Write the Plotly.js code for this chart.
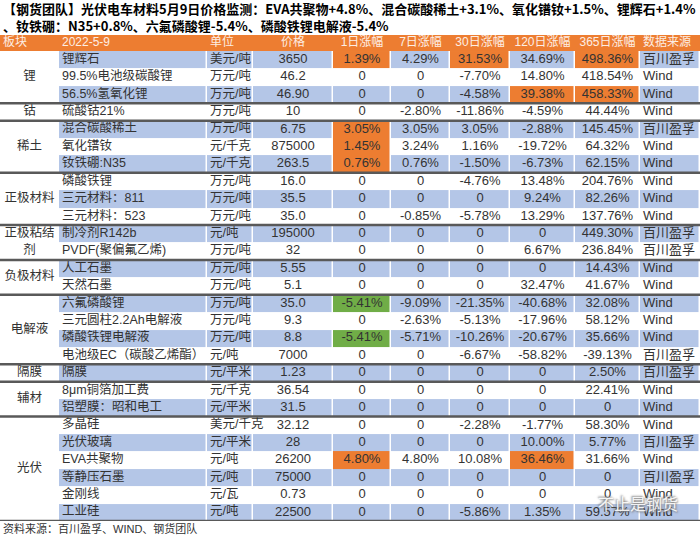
<!DOCTYPE html>
<html>
<head>
<meta charset="utf-8">
<script src="https://cdn.plot.ly/plotly-3.0.1.min.js"></script>
<style>
  body { margin: 0; padding: 0; background: #fff; }
  #plot { width: 700px; height: 536px; }
</style>
</head>
<body>
<div id="plot"></div>
<script>
// table contents
var headers = ["板块", "2022-5-9", "单位", "价格", "1日涨幅", "7日涨幅", "30日涨幅", "120日涨幅", "365日涨幅", "数据来源"];

var names = ["锂辉石", "99.5%电池级碳酸锂", "56.5%氢氧化锂", "硫酸钴21%", "混合碳酸稀土", "氧化镨钕",
  "钕铁硼:N35", "磷酸铁锂", "三元材料：811", "三元材料：523", "制冷剂R142b", "PVDF(聚偏氟乙烯)",
  "人工石墨", "天然石墨", "六氟磷酸锂", "三元圆柱2.2Ah电解液", "磷酸铁锂电解液", "电池级EC（碳酸乙烯酯）",
  "隔膜", "8μm铜箔加工费", "铝塑膜：昭和电工", "多晶硅", "光伏玻璃", "EVA共聚物", "等静压石墨", "金刚线", "工业硅"];

var units = ["美元/吨", "万元/吨", "万元/吨", "万元/吨", "万元/吨", "元/千克", "元/千克", "万元/吨", "万元/吨",
  "万元/吨", "元/吨", "万元/吨", "万元/吨", "万元/吨", "万元/吨", "万元/吨", "万元/吨", "元/吨", "元/平米",
  "元/千克", "元/平米", "美元/千克", "元/平米", "元/吨", "元/吨", "元/瓦", "元/吨"];

var prices = ["3650", "46.2", "46.90", "10", "6.75", "875000", "263.5", "16.0", "35.5", "35.0", "195000", "32",
  "5.55", "5.1", "35.0", "9.3", "8.8", "7000", "1.23", "36.54", "31.5", "32.12", "28", "26200", "75000", "0.73", "22500"];

var chg1 = [1.39, 0, 0, 0, 3.05, 1.45, 0.76, 0, 0, 0, 0, 0, 0, 0, -5.41, 0, -5.41, 0, 0, 0, 0, 0, 0, 4.80, 0, 0, 0];
var chg7 = [4.29, 0, 0, -2.80, 3.05, 3.24, 0.76, 0, 0, -0.85, 0, 0, 0, 0, -9.09, -2.63, -5.71, 0, 0, 0, 0, 0, 0, 4.80, 0, 0, 0];
var chg30 = [31.53, -7.70, -4.58, -11.86, 3.05, 1.16, -1.50, -4.76, 0, -5.78, 0, 0, 0, 0, -21.35, -5.13, -10.26,
  -6.67, 0, 0, 0, -2.28, 0, 10.08, 0, 0, -5.86];
var chg120 = [34.69, 14.80, 39.38, -4.59, -2.88, -19.72, -6.73, 13.48, 9.24, 13.29, 0, 6.67, 0, 32.47, -40.68,
  -17.96, -20.67, -58.82, 0, 0, 0, -1.77, 10.00, 36.46, 0, 0, 1.35];
var chg365 = [498.36, 418.54, 458.33, 44.44, 145.45, 64.32, 62.15, 204.76, 82.26, 137.76, 449.30, 236.84, 14.43,
  41.67, 32.08, 58.12, 35.66, -39.13, 2.50, 22.41, 0, 58.30, 5.77, 31.66, 0, 0, 59.57];

var sources = ["百川盈孚", "Wind", "Wind", "Wind", "百川盈孚", "Wind", "Wind", "Wind", "Wind", "Wind", "百川盈孚",
  "百川盈孚", "Wind", "Wind", "Wind", "Wind", "Wind", "百川盈孚", "百川盈孚", "Wind", "Wind", "Wind", "百川盈孚",
  "Wind", "百川盈孚", "Wind", "Wind"];

var groupLabels = ["锂", "钴", "稀土", "正极材料", "正极粘结<br>剂", "负极材料", "电解液", "隔膜", "辅材", "光伏"];
var groupSizes = [3, 1, 3, 3, 2, 2, 4, 1, 2, 6];

// highlighted cells: [row, change column (0 = 1日 ... 4 = 365日)]
var hotCells = [[0, 0], [0, 2], [0, 4], [2, 3], [2, 4], [4, 0], [5, 0], [6, 0], [23, 0], [23, 3]];
var coldCells = [[14, 0], [16, 0]];

// layout helpers
var colEdges = [0, 59, 207, 253, 333, 391, 450, 510, 575, 640, 700];
var nRows = names.length;
var headTop = -0.92;
var BLUE = "#b4c6e7", ORANGE = "#ed7d31", GREEN = "#70ad47";
var TXT = "#333333";
var FONT = "Liberation Sans, Noto Sans CJK SC, sans-serif";

function pct(v) {
  return v === 0 ? "0" : v.toFixed(2) + "%";
}

// body colour codes: 0 white, 1 blue, 2 orange, 3 green
var z = [];
for (var r = 0; r < nRows; r++) {
  var row = [];
  for (var c = 0; c < colEdges.length - 1; c++) {
    row.push(c === 0 ? 0 : (r % 2 === 0 ? 1 : 0));
  }
  z.push(row);
}
hotCells.forEach(function(h) { z[h[0]][h[1] + 4] = 2; });
coldCells.forEach(function(h) { z[h[0]][h[1] + 4] = 3; });

var yEdges = [];
for (var i = 0; i <= nRows; i++) yEdges.push(i);

var colorscale = [[0, "#ffffff"], [1 / 6, "#ffffff"], [1 / 6, BLUE], [0.5, BLUE],
  [0.5, ORANGE], [5 / 6, ORANGE], [5 / 6, GREEN], [1, GREEN]];

var body = {
  type: "heatmap",
  x: colEdges,
  y: yEdges,
  z: z,
  zmin: 0,
  zmax: 3,
  colorscale: colorscale,
  showscale: false,
  xgap: 1.5,
  hoverinfo: "skip"
};

var head = {
  type: "heatmap",
  x: colEdges,
  y: [headTop, 0],
  z: [headers.map(function() { return 2; })],
  zmin: 0,
  zmax: 3,
  colorscale: colorscale,
  showscale: false,
  hoverinfo: "skip"
};

var rowMid = names.map(function(n, i) { return i + 0.5; });

function textCol(colIdx, values, align, size) {
  var x0 = colEdges[colIdx], x1 = colEdges[colIdx + 1];
  return {
    type: "scatter",
    mode: "text",
    x: values.map(function() { return align === "left" ? x0 + 3 : (x0 + x1) / 2; }),
    y: rowMid,
    text: values,
    textposition: align === "left" ? "middle right" : "middle center",
    textfont: { family: FONT, size: size || 12.5, color: TXT },
    hoverinfo: "skip",
    cliponaxis: false
  };
}

var data = [head, body,
  textCol(1, names, "left"),
  textCol(2, units, "left"),
  textCol(3, prices, "center", 13),
  textCol(4, chg1.map(pct), "center", 13),
  textCol(5, chg7.map(pct), "center", 13),
  textCol(6, chg30.map(pct), "center", 13),
  textCol(7, chg120.map(pct), "center", 13),
  textCol(8, chg365.map(pct), "center", 13),
  textCol(9, sources, "left", 13)
];

// header texts
var headAlign = ["left", "left", "left", "center", "center", "center", "center", "center", "center", "left"];
data.push({
  type: "scatter",
  mode: "text",
  x: headers.map(function(h, c) {
    return headAlign[c] === "left" ? colEdges[c] + 3 : (colEdges[c] + colEdges[c + 1]) / 2;
  }),
  y: headers.map(function() { return headTop / 2; }),
  text: headers,
  textposition: headers.map(function(h, c) { return headAlign[c] === "left" ? "middle right" : "middle center"; }),
  textfont: { family: FONT, size: 12, color: "#fdeee4" },
  hoverinfo: "skip",
  cliponaxis: false
});

// group labels and separators
var gMid = [], shapes = [], start = 0;
groupSizes.forEach(function(n) {
  gMid.push(start + n / 2);
  start += n;
  shapes.push({
    type: "line", xref: "x", yref: "y",
    x0: 0, x1: 700, y0: start, y1: start,
    line: { color: "#595959", width: 2.5 }
  });
});

data.push({
  type: "scatter",
  mode: "text",
  x: groupLabels.map(function() { return (colEdges[0] + colEdges[1]) / 2; }),
  y: gMid,
  text: groupLabels,
  textposition: "middle center",
  textfont: { family: FONT, size: 12.5, color: TXT },
  hoverinfo: "skip",
  cliponaxis: false
});

var layout = {
  width: 700,
  height: 536,
  margin: { l: 0, r: 0, t: 35, b: 15 },
  paper_bgcolor: "#ffffff",
  plot_bgcolor: "#ffffff",
  showlegend: false,
  xaxis: { range: [0, 700], visible: false, fixedrange: true },
  yaxis: { range: [nRows, headTop], visible: false, fixedrange: true },
  shapes: shapes,
  annotations: [
    {
      xref: "paper", yref: "paper", x: 0, y: 1, xanchor: "left", yanchor: "middle", yshift: 27, xshift: 1,
      showarrow: false,
      text: "【钢货团队】光伏电车材料5月9日价格监测：EVA共聚物+4.8%、混合碳酸稀土+3.1%、氧化镨钕+1.5%、锂辉石+1.4%",
      font: { family: "Noto Sans CJK SC, sans-serif", size: 13, weight: "bold", color: "#000" }
    },
    {
      xref: "paper", yref: "paper", x: 0, y: 1, xanchor: "left", yanchor: "middle", yshift: 10, xshift: 1,
      showarrow: false,
      text: "、钕铁硼：N35+0.8%、六氟磷酸锂-5.4%、磷酸铁锂电解液-5.4%",
      font: { family: "Noto Sans CJK SC, sans-serif", size: 13, weight: "bold", color: "#000" }
    },
    {
      xref: "paper", yref: "paper", x: 0, y: 0, xanchor: "left", yanchor: "middle", yshift: -7, xshift: 1,
      showarrow: false,
      text: "资料来源：百川盈孚、WIND、钢货团队",
      font: { family: FONT, size: 11, color: TXT }
    },
    {
      xref: "paper", yref: "paper", x: 1, y: 0, xanchor: "right", yanchor: "middle", yshift: 18, xshift: -20,
      showarrow: false,
      text: "不止是钢货",
      font: { family: "Noto Sans CJK SC, sans-serif", size: 16, color: "rgba(255,255,255,0.9)",
        shadow: "1px 1px 2px #777, -1px -1px 2px #777" }
    }
  ]
};

Plotly.newPlot("plot", data, layout, { displayModeBar: false, staticPlot: true });
</script>
</body>
</html>
